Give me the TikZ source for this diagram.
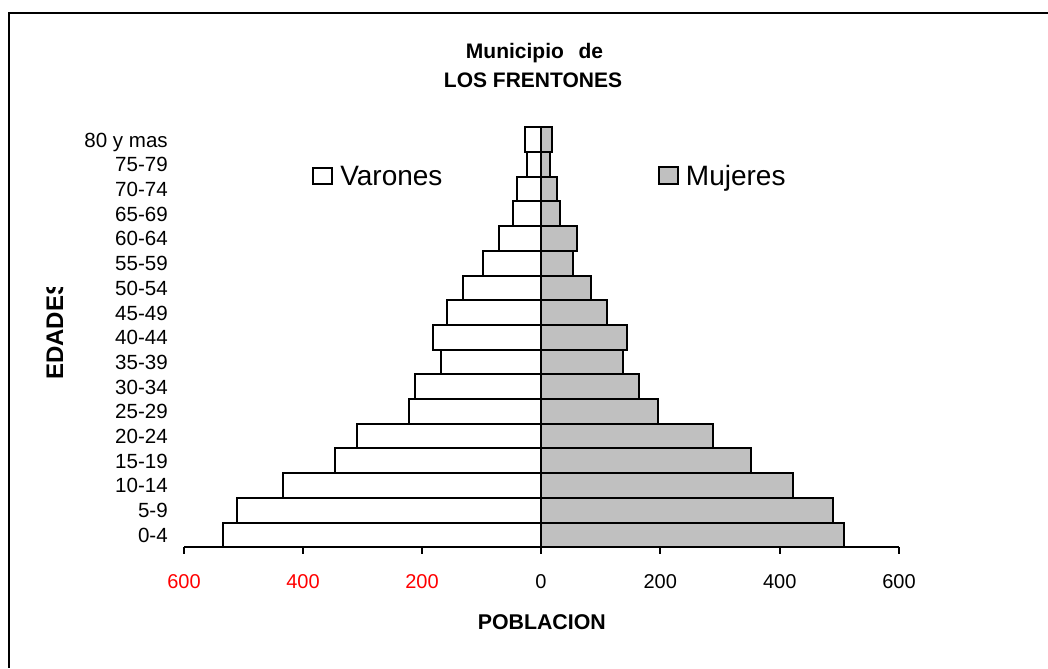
\documentclass[tikz,border=0pt]{standalone}
\usepackage{fontspec}
\setmainfont{Liberation Sans}
\definecolor{barg}{RGB}{192,192,192}
\definecolor{tickred}{RGB}{255,0,0}
\begin{document}
\begin{tikzpicture}[x=0.75pt,y=-0.75pt,
  barline/.style={draw=black, line width=1.5pt},
  malebar/.style={barline, fill=white},
  femalebar/.style={barline, fill=barg},
  agelbl/.style={anchor=base east, inner sep=0pt, font=\fontsize{15.4}{18}\selectfont},
  ticklbl/.style={anchor=base, inner sep=0pt, font=\fontsize{15}{18}\selectfont},
  titlelbl/.style={anchor=base, inner sep=0pt, font=\bfseries\fontsize{15.75}{19}\selectfont},
  leglbl/.style={anchor=base west, inner sep=0pt, font=\fontsize{21}{25}\selectfont}]
\useasboundingbox (0,0) rectangle (1048,668);
% frame
\draw[line width=1.5pt] (1048,12.5) -- (8.5,12.5) -- (8.5,668);
% title
\node[titlelbl] (title1) at (534.5,58.5) {Municipio\hspace{11pt}de};
\node[titlelbl] (title2) at (533,87.3) {LOS FRENTONES};
% bars
\foreach \j/\m/\f/\lab in {0/16/10.7/80 y mas, 1/13.7/8.7/75-79, 2/23.7/16.3/70-74, 3/28/18.7/65-69, 4/41.7/36.3/60-64, 5/57.7/32/55-59, 6/78/50.3/50-54, 7/94/66.3/45-49, 8/108/86.3/40-44, 9/100/82.3/35-39, 10/126/98.3/30-34, 11/132/116.7/25-29, 12/184/172.3/20-24, 13/206/210.3/15-19, 14/258/252.3/10-14, 15/304/292.3/5-9, 16/317.7/302.7/0-4}{
  \pgfmathsetmacro\yt{127.3+\j*24.706}
  \pgfmathsetmacro\yb{\yt+24.706}
  \pgfmathsetmacro\yc{\yt+12.353+7.4}
  \draw[malebar] ({541-\m},\yt) rectangle (541,\yb);
  \draw[femalebar] (541,\yt) rectangle ({541+\f},\yb);
  \node[agelbl] (age\j) at (168,\yc) {\lab};
}
% axis
\draw[barline] (184,547.3) -- (899,547.3);
\foreach \x in {184,303,422,541,660.3,779.7,899}{
  \draw[barline] (\x,547.3) -- (\x,553.5);
}
\node[ticklbl, text=tickred] (tm600) at (184,588.3) {600};
\node[ticklbl, text=tickred] (tm400) at (303,588.3) {400};
\node[ticklbl, text=tickred] (tm200) at (422,588.3) {200};
\node[ticklbl] (t0) at (541,588.3) {0};
\node[ticklbl] (t200) at (660.3,588.3) {200};
\node[ticklbl] (t400) at (779.7,588.3) {400};
\node[ticklbl] (t600) at (899,588.3) {600};
% axis titles
\node[anchor=base, inner sep=0pt, font=\bfseries\fontsize{16}{19}\selectfont] (pob) at (541.8,629.3) {POBLACION};
\begin{scope}
\clip (0,287) rectangle (120,668);
\node[rotate=90, anchor=base west, inner sep=0pt, font=\bfseries\fontsize{18}{21}\selectfont] (edades) at (63,380) {EDADES};
\end{scope}
% legend
\draw[malebar] (312.7,168.3) rectangle (332,184.3);
\node[leglbl] (varones) at (340,185.7) {Varones};
\draw[femalebar] (658.7,166.7) rectangle (677.7,184);
\node[leglbl] (mujeres) at (685.7,185) {Mujeres};
\end{tikzpicture}
\end{document}
